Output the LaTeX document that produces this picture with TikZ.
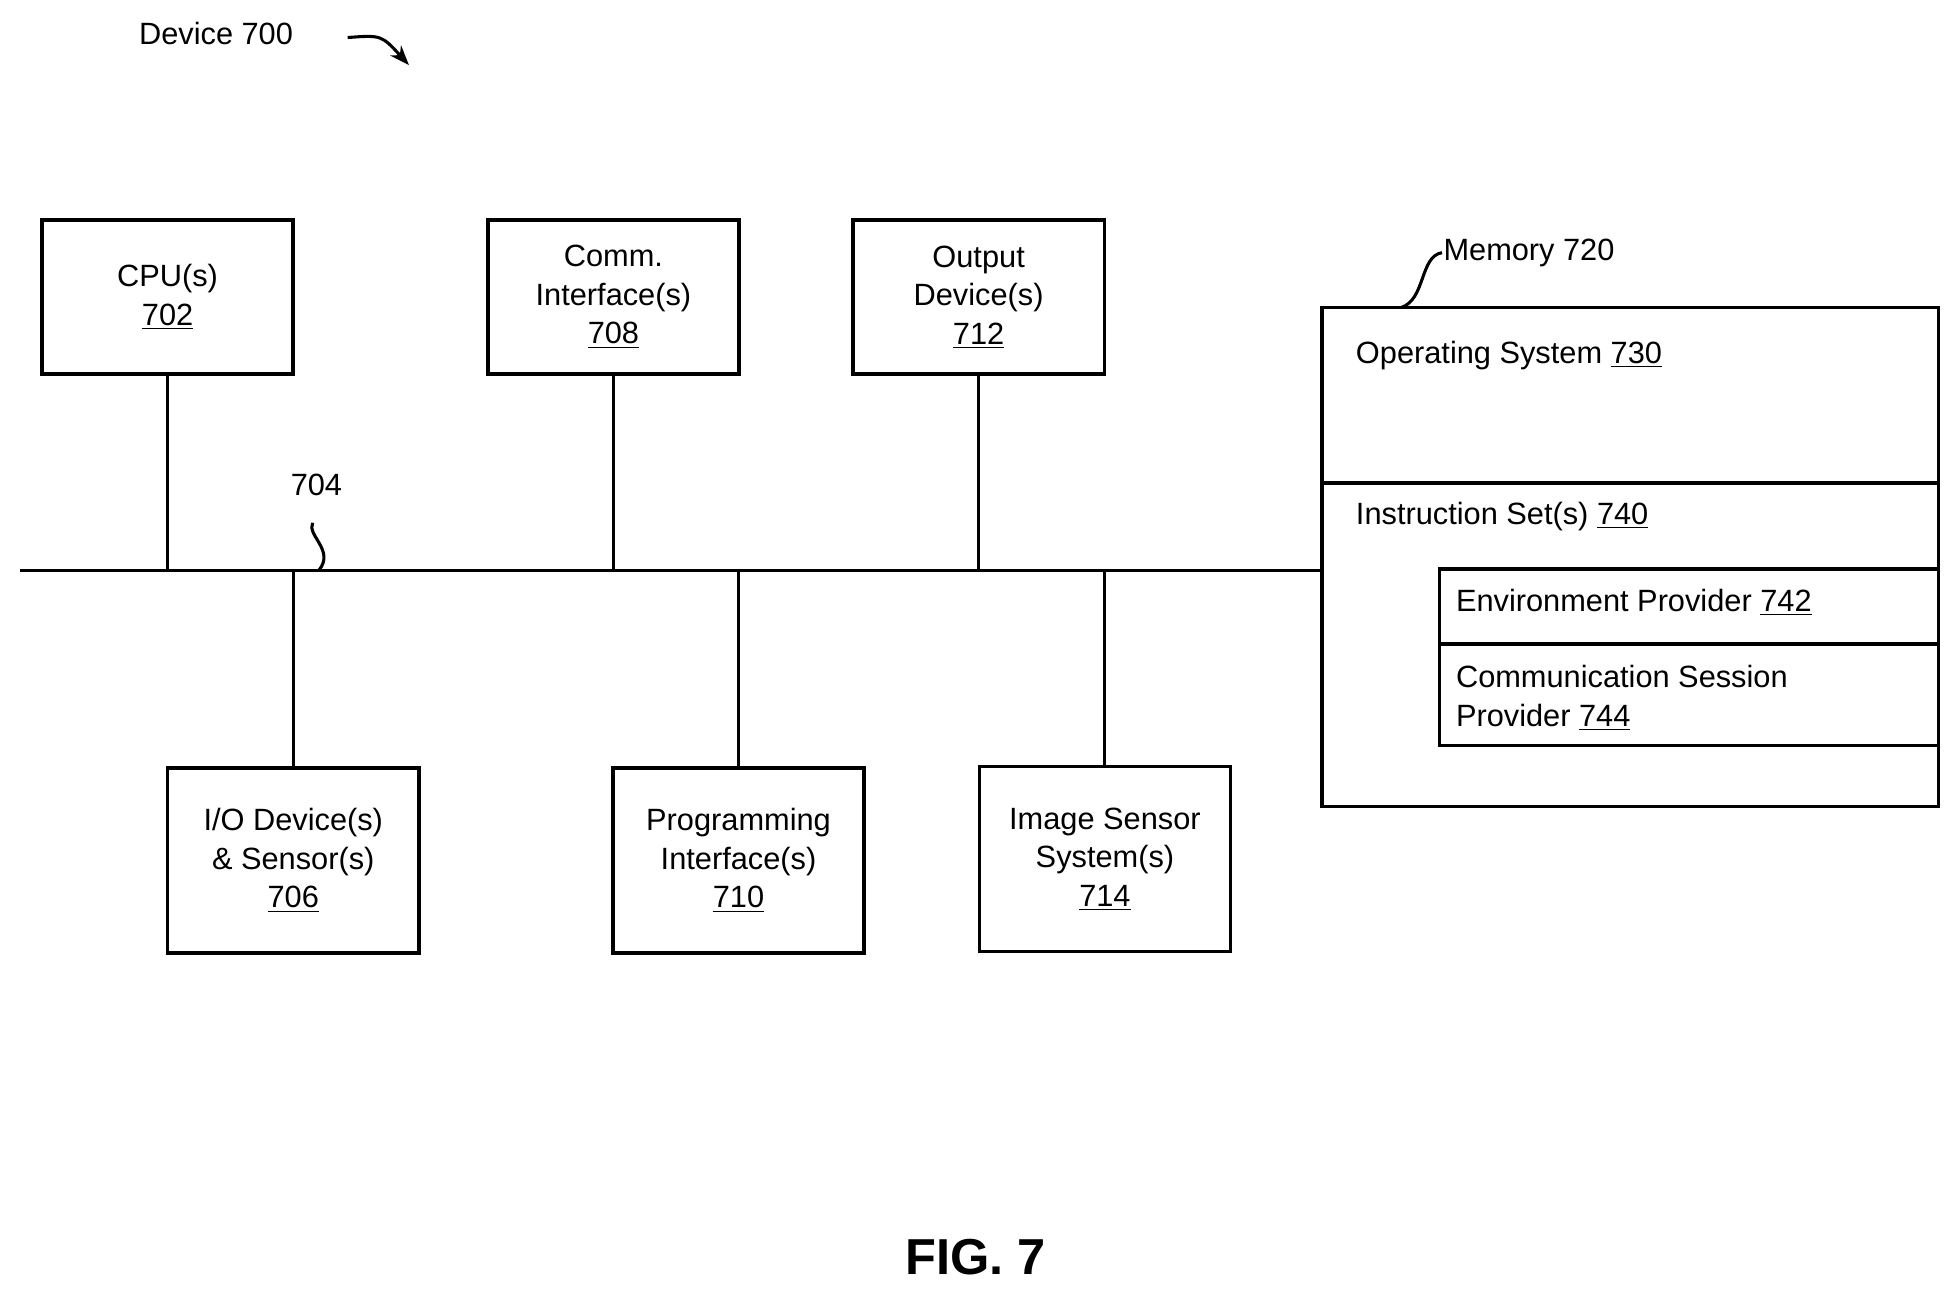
\documentclass[tikz,border=0pt]{standalone}
\usepackage{fontspec}
\setmainfont{Liberation Sans}
\usetikzlibrary{arrows.meta}
\begin{document}
\begin{tikzpicture}[x=0.02cm,y=-0.02cm,line width=1.4pt,
  box/.style={draw,line width=1.6pt,minimum width=4.02cm,align=center,font=\fontsize{14}{17.5}\selectfont,inner sep=0pt},
  txt/.style={font=\fontsize{14}{17.5}\selectfont,inner sep=0pt,anchor=west,align=left}]
\useasboundingbox (0,0) rectangle (1560,1032);
\node[txt] (dev) at (110,27) {Device 700};
\coordinate (da) at (278,30); \coordinate (db) at (327,52);
\draw[-{Stealth[length=9pt]}] (da) .. controls (305,28) .. (db);
\node[box,minimum height=2.46cm] (cpu) at (134,237.5) {CPU(s)\\\underline{702}};
\node[box,minimum height=2.46cm] (comm) at (490.5,237.5) {Comm.\\Interface(s)\\\underline{708}};
\node[box,minimum height=2.46cm] (out) at (782.5,237.5) {Output\\Device(s)\\\underline{712}};
\node[box,minimum height=2.96cm] (io) at (234.5,688) {I/O Device(s)\\\& Sensor(s)\\\underline{706}};
\node[box,minimum height=2.96cm] (prog) at (590.5,688) {Programming\\Interface(s)\\\underline{710}};
\node[box,minimum height=2.96cm] (img) at (883.5,687) {Image Sensor\\System(s)\\\underline{714}};
\draw[line width=1.6pt] (1057,246) rectangle (1550,645);
\coordinate (mem) at (1057,456);
\draw[line width=1.6pt] (1057,386) -- (1550,386);
\draw[line width=1.6pt] (1151,455) rectangle (1550,596);
\draw[line width=1.6pt] (1151,515) -- (1550,515);
\node[txt] (os) at (1083,284) {Operating System \underline{730}};
\node[txt] (is) at (1083,413) {Instruction Set(s) \underline{740}};
\node[txt] (ep) at (1163,482) {Environment Provider \underline{742}};
\node[txt] (cs) at (1163,558) {Communication Session\\Provider \underline{744}};
\node[txt] (ml) at (1153,202) {Memory 720};
\draw (ml.west) .. controls (1135,205) and (1140,240) .. (1120,246);
\coordinate (bl) at (16,456);
\draw (bl) -- (mem);
\draw (cpu.south) -- (cpu.south |- bl);
\draw (comm.south) -- (comm.south |- bl);
\draw (out.south) -- (out.south |- bl);
\draw (io.north) -- (io.north |- bl);
\draw (prog.north) -- (prog.north |- bl);
\draw (img.north) -- (img.north |- bl);
\node[txt,anchor=center] (l704) at (253,388) {704};
\draw (250,418) .. controls (245,428) and (268,440) .. (255,456);
\node[font=\bfseries\fontsize{23}{27}\selectfont] (fig) at (780,1005) {FIG. 7};
\end{tikzpicture}
\end{document}
